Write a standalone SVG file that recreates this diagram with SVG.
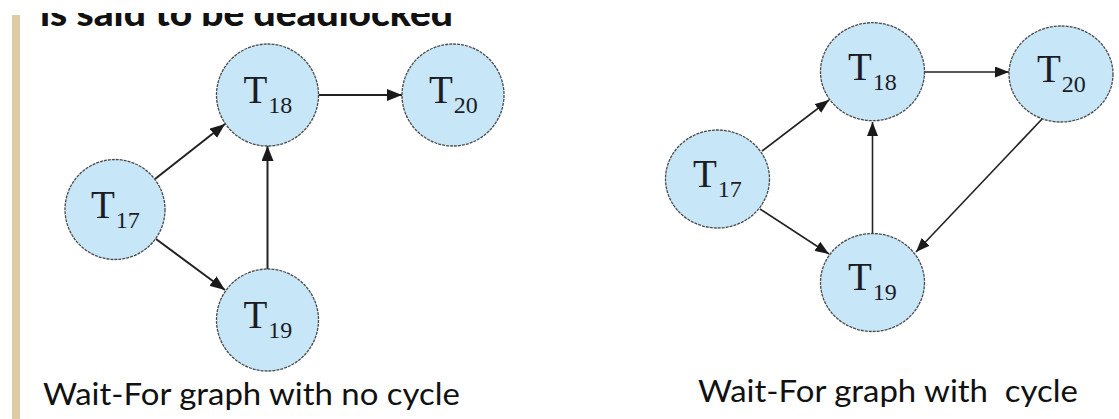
<svg xmlns="http://www.w3.org/2000/svg" width="1119" height="419" viewBox="0 0 1119 419">
  <style>
    .node { fill: #c7e6f8; stroke: #4a4a4a; stroke-width: 1.3; stroke-dasharray: 3 1; }
    .t { font-family: "Liberation Serif", "Times New Roman", serif; font-size: 39px; fill: #1c1c24; }
    .sub { font-size: 24px; }
    .edge { stroke: #222; stroke-width: 2; fill: none; }
    .edge2 { stroke: #222; stroke-width: 1.6; fill: none; }
    .label { font-family: Lato, "Open Sans", "Liberation Sans", sans-serif; font-size: 31px; fill: #111; }
    .head { font-family: Lato, "Liberation Sans", sans-serif; font-size: 36px; font-weight: 900; fill: #111; }
  </style>
  <defs>
    <marker id="arr" viewBox="0 0 15 12" refX="15" refY="6" markerWidth="15" markerHeight="12" markerUnits="userSpaceOnUse" orient="auto">
      <path d="M0,0 L15,6 L0,12 z" fill="#1a1a1a"/>
    </marker>
    <marker id="arr2" viewBox="0 0 14 11" refX="14" refY="5.5" markerWidth="14" markerHeight="11" markerUnits="userSpaceOnUse" orient="auto">
      <path d="M0,0 L14,5.5 L0,11 z" fill="#1a1a1a"/>
    </marker>
  </defs>

  <rect x="0" y="0" width="1119" height="419" fill="#ffffff"/>

  <!-- heading, only its lower part shows in the picture -->
  <text class="head" x="40" y="26" textLength="413" lengthAdjust="spacingAndGlyphs">is said to be deadlocked</text>
  <rect x="0" y="0" width="1119" height="13" fill="#ffffff"/>

  <!-- left decorative bar -->
  <rect x="12" y="15" width="8" height="404" fill="#dccda3"/>

  <!-- connectors -->
  <g id="connectors">
    <!-- left graph -->
    <line class="edge" x1="155" y1="179" x2="225" y2="124" marker-end="url(#arr)"/>
    <line class="edge" x1="156" y1="239" x2="225" y2="290" marker-end="url(#arr)"/>
    <line class="edge" x1="267.5" y1="269" x2="267.5" y2="146" marker-end="url(#arr)"/>
    <line class="edge" x1="318.5" y1="95" x2="402" y2="95" marker-end="url(#arr)"/>
    <!-- right graph -->
    <line class="edge2" x1="762" y1="151" x2="829" y2="100" marker-end="url(#arr2)"/>
    <line class="edge2" x1="760" y1="209" x2="829" y2="254" marker-end="url(#arr2)"/>
    <line class="edge2" x1="872.5" y1="233" x2="872.5" y2="122" marker-end="url(#arr2)"/>
    <line class="edge2" x1="924" y1="72" x2="1009" y2="72" marker-end="url(#arr2)"/>
    <line class="edge2" x1="1043" y1="118" x2="916" y2="252" marker-end="url(#arr2)"/>
  </g>

  <!-- left graph nodes -->
  <g id="L_T17">
    <circle class="node" cx="115" cy="209.5" r="50"/>
    <text class="t" x="91" y="217.5">T<tspan class="sub" dx="1" dy="10">17</tspan></text>
  </g>
  <g id="L_T18">
    <circle class="node" cx="267.5" cy="95" r="51"/>
    <text class="t" x="243.5" y="103">T<tspan class="sub" dx="1" dy="10">18</tspan></text>
  </g>
  <g id="L_T20">
    <circle class="node" cx="453" cy="95" r="51"/>
    <text class="t" x="429" y="103">T<tspan class="sub" dx="1" dy="10">20</tspan></text>
  </g>
  <g id="L_T19">
    <circle class="node" cx="267.5" cy="320" r="51"/>
    <text class="t" x="243.5" y="328">T<tspan class="sub" dx="1" dy="10">19</tspan></text>
  </g>

  <!-- right graph nodes -->
  <g id="R_T17">
    <ellipse class="node" cx="717.5" cy="179" rx="52" ry="49"/>
    <text class="t" x="693" y="186.5">T<tspan class="sub" dx="1" dy="10">17</tspan></text>
  </g>
  <g id="R_T18">
    <ellipse class="node" cx="872.5" cy="71.7" rx="52" ry="49"/>
    <text class="t" x="848" y="79.5">T<tspan class="sub" dx="1" dy="10">18</tspan></text>
  </g>
  <g id="R_T20">
    <ellipse class="node" cx="1061" cy="74" rx="52" ry="48"/>
    <text class="t" x="1037" y="81.5">T<tspan class="sub" dx="1" dy="10">20</tspan></text>
  </g>
  <g id="R_T19">
    <ellipse class="node" cx="872.5" cy="282.5" rx="52" ry="49"/>
    <text class="t" x="848" y="290">T<tspan class="sub" dx="1" dy="10">19</tspan></text>
  </g>

  <!-- captions -->
  <text class="label" x="43" y="405" textLength="417" lengthAdjust="spacingAndGlyphs">Wait-For graph with no cycle</text>
  <text class="label" x="698" y="402" textLength="380" lengthAdjust="spacingAndGlyphs" xml:space="preserve">Wait-For graph with  cycle</text>
</svg>
